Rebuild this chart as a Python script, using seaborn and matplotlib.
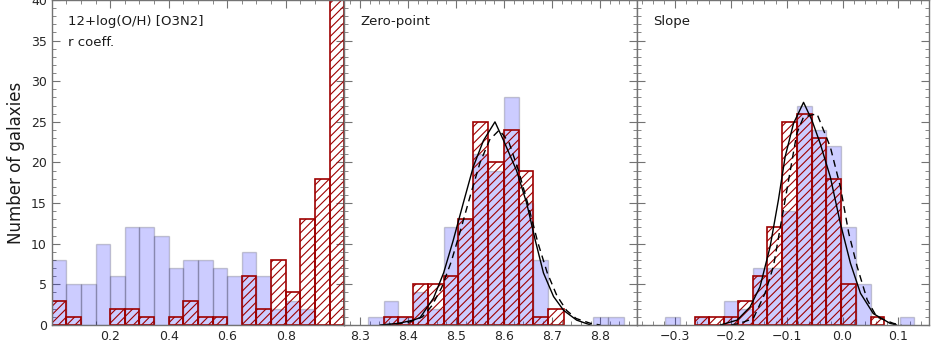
import numpy as np
import pandas as pd
import matplotlib
matplotlib.use("Agg")
import matplotlib.pyplot as plt
import seaborn as sns
from matplotlib.ticker import MultipleLocator

# ---------------- data ----------------
p1_edges = [0.00, 0.05, 0.10, 0.15, 0.20, 0.25, 0.30, 0.35, 0.40, 0.45, 0.50,
            0.55, 0.60, 0.65, 0.70, 0.75, 0.80, 0.85, 0.90, 0.95, 1.00]
p1_blue = [8, 5, 5, 10, 6, 12, 12, 11, 7, 8, 8, 7, 6, 9, 6, 2, 3, 2, 0, 0]
p1_red = [3, 1, 0, 0, 2, 2, 1, 0, 1, 3, 1, 1, 0, 6, 2, 8, 4, 13, 18, 45]

p2_edges = [8.317, 8.349, 8.380, 8.411, 8.442, 8.474, 8.505, 8.536, 8.567,
            8.599, 8.630, 8.661, 8.692, 8.724, 8.755, 8.786, 8.817, 8.849]
p2_blue = [1, 3, 1, 4, 2, 12, 13, 21, 19, 28, 15, 8, 0, 0, 0, 1, 1]
p2_red = [0, 1, 1, 5, 5, 6, 13, 25, 20, 24, 19, 1, 2, 0, 0, 0, 0]

p2_solid_x = [8.342, 8.380, 8.411, 8.425, 8.453, 8.474, 8.494, 8.515, 8.536,
              8.557, 8.581, 8.599, 8.626, 8.647, 8.665, 8.682, 8.703, 8.724,
              8.751, 8.780]
p2_solid_y = [0.0, 0.2, 0.6, 0.9, 3.3, 6.4, 10.4, 15.0, 19.5, 22.7, 25.0,
              22.7, 19.0, 15.0, 10.4, 6.4, 3.5, 1.8, 0.6, 0.0]
p2_dash_x = [8.350, 8.400, 8.430, 8.450, 8.470, 8.490, 8.510, 8.530, 8.550,
             8.570, 8.590, 8.610, 8.630, 8.650, 8.670, 8.690, 8.710, 8.730,
             8.750, 8.780, 8.800]
p2_dash_y = [0.0, 0.3, 1.0, 2.4, 4.6, 7.8, 11.8, 16.0, 20.0, 22.8, 24.0,
             22.5, 19.0, 14.8, 10.2, 6.4, 3.6, 1.8, 0.8, 0.2, 0.0]

p3_edges = [-0.318, -0.292, -0.265, -0.240, -0.213, -0.188, -0.161, -0.135,
            -0.109, -0.082, -0.055, -0.029, -0.003, 0.024, 0.050, 0.075,
            0.102, 0.128]
p3_blue = [1, 0, 1, 0, 3, 2, 7, 7, 14, 27, 24, 22, 12, 5, 0, 0, 1]
p3_red = [0, 0, 1, 1, 1, 3, 6, 12, 25, 26, 23, 18, 5, 0, 1, 0, 0]

p3_solid_x = [-0.219, -0.189, -0.166, -0.148, -0.130, -0.115, -0.103, -0.088,
              -0.070, -0.055, -0.040, -0.022, -0.004, 0.014, 0.032, 0.055,
              0.085, 0.097]
p3_solid_y = [0.0, 0.6, 2.2, 4.7, 9.6, 15.4, 20.7, 24.8, 27.4, 25.2, 22.3,
              18.2, 12.5, 7.6, 3.9, 1.4, 0.2, 0.0]
p3_dash_x = [-0.200, -0.184, -0.160, -0.139, -0.124, -0.103, -0.082, -0.070,
             -0.046, -0.022, -0.004, 0.011, 0.026, 0.044, 0.061, 0.091, 0.105]
p3_dash_y = [0.0, 0.2, 0.8, 3.9, 7.2, 15.4, 23.6, 25.6, 26.0, 21.9, 17.0,
             11.3, 7.2, 3.1, 1.0, 0.2, 0.0]

panel_labels = ["12+log(O/H) [O3N2]\nr coeff.", "Zero-point", "Slope"]
p1_ticks = [0.2, 0.4, 0.6, 0.8]
p2_ticks = [8.3, 8.4, 8.5, 8.6, 8.7, 8.8]
p3_ticks = [-0.3, -0.2, -0.1, 0.0, 0.1]
y_ticks = [0, 5, 10, 15, 20, 25, 30, 35, 40]

# ---------------- style ----------------
RED = "#9e0000"
DASH = (0, (5, 3.5))
sns.set_style("ticks")
plt.rcParams["font.family"] = ["DejaVu Sans"]
plt.rcParams["hatch.color"] = RED
plt.rcParams["hatch.linewidth"] = 0.8

fig, axes = plt.subplots(1, 3, figsize=(9.31, 3.51), dpi=100, sharey=True)
fig.subplots_adjust(left=0.0555, right=0.998, bottom=0.0741, top=1.0, wspace=0)


def draw(ax, edges, blue, red):
    centers = [(a + b) / 2 for a, b in zip(edges[:-1], edges[1:])]
    sns.histplot(x=centers, weights=blue, bins=edges, ax=ax,
                 color=(0.0, 0.0, 1.0), alpha=0.2,
                 edgecolor=(0.0, 0.0, 0.0, 0.18), linewidth=1.0)
    sns.histplot(x=centers, weights=red, bins=edges, ax=ax, fill=False,
                 color=RED, edgecolor=RED, hatch="////", linewidth=1.2)
    for p in ax.patches:
        if p.get_height() == 0:
            p.set_visible(False)


draw(axes[0], p1_edges, p1_blue, p1_red)
draw(axes[1], p2_edges, p2_blue, p2_red)
draw(axes[2], p3_edges, p3_blue, p3_red)

sns.lineplot(x=p2_solid_x, y=p2_solid_y, ax=axes[1], color="black", lw=1.0, sort=False)
sns.lineplot(x=p2_dash_x, y=p2_dash_y, ax=axes[1], color="black", lw=1.0,
             sort=False, linestyle=DASH)
sns.lineplot(x=p3_solid_x, y=p3_solid_y, ax=axes[2], color="black", lw=1.0, sort=False)
sns.lineplot(x=p3_dash_x, y=p3_dash_y, ax=axes[2], color="black", lw=1.0,
             sort=False, linestyle=DASH)

axes[0].set_xlim(0.0, 1.0)
axes[1].set_xlim(8.267, 8.876)
axes[2].set_xlim(-0.369, 0.155)
axes[0].set_ylim(0, 40)

axes[0].set_xticks(p1_ticks)
axes[0].xaxis.set_minor_locator(MultipleLocator(0.05))
axes[1].set_xticks(p2_ticks)
axes[1].xaxis.set_minor_locator(MultipleLocator(0.02))
axes[2].set_xticks(p3_ticks)
axes[2].xaxis.set_minor_locator(MultipleLocator(0.02))
axes[0].set_yticks(y_ticks)
axes[0].yaxis.set_minor_locator(MultipleLocator(1))

for ax, lab in zip(axes, panel_labels):
    ax.set_xlabel("")
    ax.set_ylabel("")
    for s in ax.spines.values():
        s.set_visible(True)
        s.set_color("0.45")
        s.set_linewidth(1.0)
    ax.tick_params(which="both", direction="in", top=True, right=True,
                   colors="0.45", labelcolor="0.15", labelsize=9)
    ax.tick_params(which="major", length=6)
    ax.tick_params(which="minor", length=3)
    ax.text(0.055, 0.955, lab, transform=ax.transAxes, ha="left", va="top",
            fontsize=9.5, color="0.1", linespacing=1.85)

axes[0].set_ylabel("Number of galaxies", fontsize=12, color="0.1", labelpad=4)

fig.savefig("out.png", dpi=100)
